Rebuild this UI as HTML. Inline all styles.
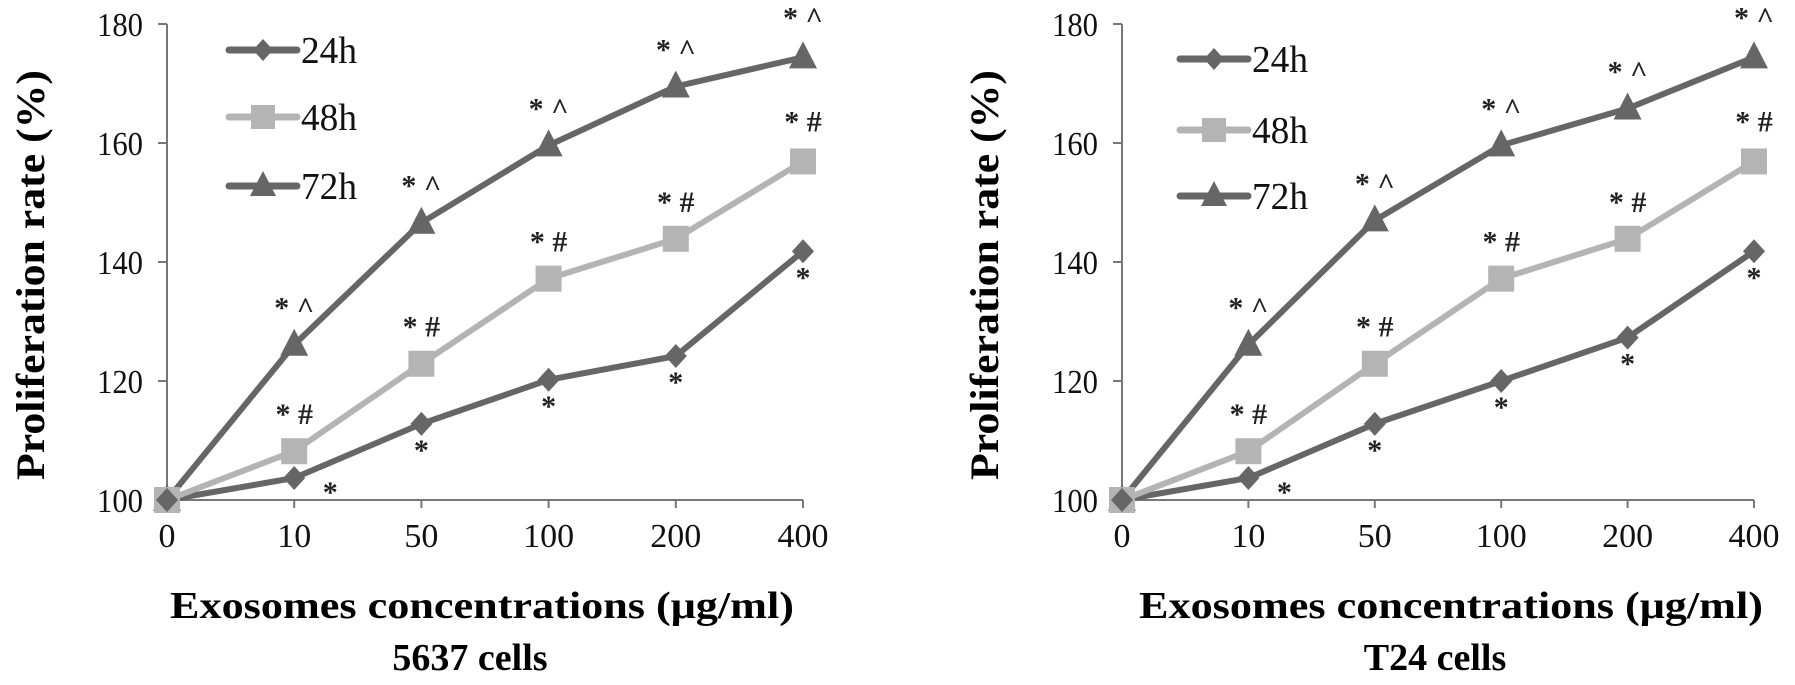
<!DOCTYPE html>
<html><head><meta charset="utf-8"><style>
html,body{margin:0;padding:0;background:#fff;}
svg{display:block;}
</style></head><body>
<svg id="fig" width="1795" height="685" viewBox="0 0 1795 685" xmlns="http://www.w3.org/2000/svg"></svg>
<script>
const categories = ["0","10","50","100","200","400"];
const yTicks = [100,120,140,160,180];
const seriesNames = ["24h","48h","72h"];
const left24 = [100,103.7,112.8,120.2,124.2,141.8];
const left48 = [100,108.2,122.9,137.2,143.9,156.9];
const left72 = [100,126.1,146.6,159.6,169.5,174.4];
const right24 = [100,103.7,112.8,120.0,127.3,141.8];
const right48 = [100,108.2,122.9,137.2,143.9,156.9];
const right72 = [100,126.1,147.0,159.6,165.8,174.4];
const ann24 = ["","*","*","*","*","*"];
const ann48 = ["","* #","* #","* #","* #","* #"];
const ann72 = ["","* ^","* ^","* ^","* ^","* ^"];

const NS="http://www.w3.org/2000/svg";
const svg=document.getElementById('fig');
function mk(tag,attrs,parent){const e=document.createElementNS(NS,tag);for(const k in attrs)e.setAttribute(k,attrs[k]);(parent||svg).appendChild(e);return e;}

const DARK="#666", LIGHT="#b4b4b4";

function chart(cfg){
  const g=mk('g',{});
  
  
  const y=v=>500-(v-100)*(476/80);
  const x=i=>cfg.x0+i*cfg.dx;
  const ya=mk('line',{x1:cfg.x0,y1:y(180),x2:cfg.x0,y2:500,stroke:"#777","stroke-width":2},g);
  
  
  const xa=mk('line',{x1:cfg.x0,y1:500,x2:x(5),y2:500,stroke:"#777","stroke-width":2},g);
  
  
  yTicks.forEach(t=>{
    mk('line',{x1:cfg.x0-9,y1:y(t),x2:cfg.x0,y2:y(t),stroke:"#777","stroke-width":2},g);
    const tx=mk('text',{x:cfg.x0-24,y:y(t)+12,"text-anchor":"end","font-family":"Liberation Serif, serif","font-size":34,textLength:46,lengthAdjust:"spacingAndGlyphs",fill:"#111"},g);
    tx.textContent=t;
    
    
  });
  categories.forEach((c,i)=>{
    if(i>0) mk('line',{x1:x(i),y1:500,x2:x(i),y2:508,stroke:"#777","stroke-width":2},g);
    const tx=mk('text',{x:x(i),y:547,"text-anchor":"middle","font-family":"Liberation Serif, serif","font-size":34,fill:"#111"},g);
    tx.textContent=c;
    
    
  });
  const series=[[cfg.s24,DARK,'diamond',ann24],[cfg.s48,LIGHT,'square',ann48],[cfg.s72,DARK,'triangle',ann72]];
  series.forEach(([vals,col,shape,ann],si)=>{
    const pts=vals.map((v,i)=>x(i)+','+y(v)).join(' ');
    const pl=mk('polyline',{points:pts,fill:"none",stroke:col,"stroke-width":6},g);
    
    
  });
  series.slice().reverse().forEach(([vals,col,shape,ann])=>{
    vals.forEach((v,i)=>{
      const cx=x(i),cy=y(v);let m;
      if(shape==='diamond') m=mk('polygon',{points:`${cx},${cy-12} ${cx+11},${cy} ${cx},${cy+12} ${cx-11},${cy}`,fill:col},g);
      else if(shape==='square') m=mk('rect',{x:cx-13,y:cy-13,width:26,height:26,fill:col},g);
      else m=mk('polygon',{points:`${cx},${cy-16} ${cx+14},${cy+11} ${cx-14},${cy+11}`,fill:col},g);
      
      
      if(ann[i]){
        let ax=cx, ay;
        if(shape==='diamond'){ay=cy+36; if(i===1){ax=cx+36; ay=cy+24;}}
        else ay=cy-27;
        if(i===5 && shape!=='diamond') ay=cy-30;
        const t=mk('text',{x:ax,y:ay,"text-anchor":"middle","font-family":"Liberation Serif, serif","font-size":30,"font-weight":"bold",fill:"#222"},g);
        t.textContent=ann[i];
        
        
      }
    });
  });
  const lg=mk('g',{},g);
  
  
  series.forEach(([vals,col,shape],si)=>{
    const ly=cfg.legY[si], lx1=cfg.legX, lx2=cfg.legX+68, cx=(lx1+lx2)/2;
    mk('line',{x1:lx1,y1:ly,x2:lx2,y2:ly,stroke:col,"stroke-width":7,"stroke-linecap":"round"},lg);
    if(shape==='diamond') mk('polygon',{points:`${cx},${ly-11} ${cx+10},${ly} ${cx},${ly+11} ${cx-10},${ly}`,fill:col},lg);
    else if(shape==='square') mk('rect',{x:cx-12,y:ly-12,width:24,height:24,fill:col},lg);
    else mk('polygon',{points:`${cx},${ly-15} ${cx+13},${ly+10} ${cx-13},${ly+10}`,fill:col},lg);
    const t=mk('text',{x:lx2+4,y:ly+13,"font-family":"Liberation Serif, serif","font-size":38,textLength:56,lengthAdjust:"spacingAndGlyphs",fill:"#111"},lg);
    t.textContent=seriesNames[si];
    
    
  });
  const yt=mk('text',{x:0,y:0,transform:`translate(${cfg.ytX},${cfg.ytY}) rotate(-90)`,"text-anchor":"middle","font-family":"Liberation Serif, serif","font-size":40,"font-weight":"bold",textLength:410,lengthAdjust:"spacingAndGlyphs",fill:"#000"},g);
  yt.textContent="Proliferation rate (%)";
  
  
  const xt=mk('text',{x:cfg.xtX,y:618,"text-anchor":"middle","font-family":"Liberation Serif, serif","font-size":38,"font-weight":"bold",textLength:624,lengthAdjust:"spacingAndGlyphs",fill:"#000"},g);
  xt.textContent="Exosomes concentrations (μg/ml)";
  
  
  const ct=mk('text',{x:cfg.ctX,y:670,"text-anchor":"middle","font-family":"Liberation Serif, serif","font-size":38,"font-weight":"bold",fill:"#000"},g);
  ct.textContent=cfg.caption;
  
  
}

chart({name:'chart-5637',x0:167,dx:127.2,s24:left24,s48:left48,s72:left72,legX:229,legY:[50,117,186],ytX:44,ytY:275,xtX:482,ctX:470,caption:"5637 cells"});
chart({name:'chart-t24',x0:1122,dx:126.4,s24:right24,s48:right48,s72:right72,legX:1180,legY:[59,130,196],ytX:998,ytY:275,xtX:1451,ctX:1435,caption:"T24 cells"});
</script>
</body></html>
